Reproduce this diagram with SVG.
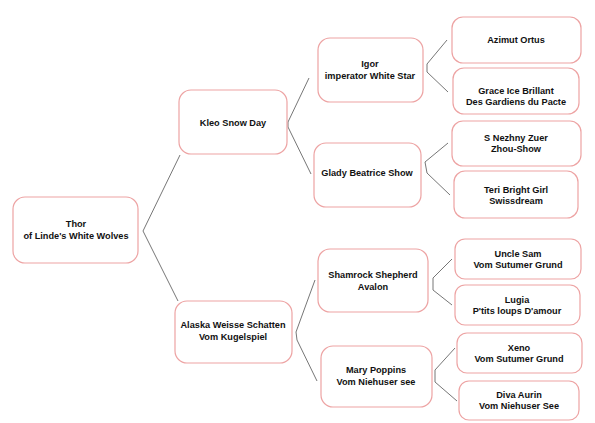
<svg xmlns="http://www.w3.org/2000/svg" width="595" height="423" viewBox="0 0 595 423">
<style>
.box{fill:#fff;stroke:#eda3a3;stroke-width:1.2}
.t{font-family:"Liberation Sans",Arial,sans-serif;font-weight:bold;font-size:9.2px;fill:#111;text-anchor:middle}
.c{fill:none;stroke:#666;stroke-width:0.9}
</style>
<rect width="595" height="423" fill="#fff"/>
<g id="connectors">
<polyline class="c" points="180,155 143,231 178,301"/>
<polyline class="c" points="309,78 288,122 288,127 311,174"/>
<polyline class="c" points="315,280 296,332 297,340 317,381"/>
<polyline class="c" points="447,40 427,64 427,72 448,92"/>
<polyline class="c" points="448,143 425,162 427,173 450,195"/>
<polyline class="c" points="452,259 433,278 433,290 452,305"/>
<polyline class="c" points="455,348 435,370 435,382 457,401"/>
</g>
<g id="thor"><rect class="box" x="13" y="197" width="125" height="66" rx="12"/><text class="t" x="76" y="227">Thor</text><text class="t" x="76" y="239">of Linde's White Wolves</text></g>
<g id="kleo"><rect class="box" x="179" y="90" width="108" height="64" rx="12"/><text class="t" x="233" y="126">Kleo Snow Day</text></g>
<g id="alaska"><rect class="box" x="175" y="301" width="117" height="62" rx="12"/><text class="t" x="233" y="328">Alaska Weisse Schatten</text><text class="t" x="233" y="340">Vom Kugelspiel</text></g>
<g id="igor"><rect class="box" x="318" y="38" width="105" height="64" rx="12"/><text class="t" x="370" y="67">Igor</text><text class="t" x="370" y="79">imperator White Star</text></g>
<g id="glady"><rect class="box" x="314" y="143" width="107" height="64" rx="12"/><text class="t" x="367" y="176">Glady Beatrice Show</text></g>
<g id="shamrock"><rect class="box" x="318" y="249" width="110" height="63" rx="12"/><text class="t" x="373" y="278">Shamrock Shepherd</text><text class="t" x="373" y="290">Avalon</text></g>
<g id="mary"><rect class="box" x="321" y="346" width="111" height="61" rx="12"/><text class="t" x="376" y="373">Mary Poppins</text><text class="t" x="376" y="385">Vom Niehuser see</text></g>
<g id="azimut"><rect class="box" x="452" y="17" width="129" height="46" rx="11"/><text class="t" x="516" y="43">Azimut Ortus</text></g>
<g id="grace"><rect class="box" x="453" y="68" width="126" height="46" rx="11"/><text class="t" x="516" y="94">Grace Ice Brillant</text><text class="t" x="516" y="105">Des Gardiens du Pacte</text></g>
<g id="nezhny"><rect class="box" x="452" y="121" width="129" height="45" rx="11"/><text class="t" x="516" y="141">S Nezhny Zuer</text><text class="t" x="516" y="152">Zhou-Show</text></g>
<g id="teri"><rect class="box" x="454" y="171" width="124" height="47" rx="11"/><text class="t" x="516" y="193">Teri Bright Girl</text><text class="t" x="516" y="204">Swissdream</text></g>
<g id="unclesam"><rect class="box" x="455" y="239" width="126" height="40" rx="10"/><text class="t" x="518" y="257">Uncle Sam</text><text class="t" x="518" y="268">Vom Sutumer Grund</text></g>
<g id="lugia"><rect class="box" x="455" y="285" width="125" height="40" rx="10"/><text class="t" x="517" y="303">Lugia</text><text class="t" x="517" y="314">P'tits loups D'amour</text></g>
<g id="xeno"><rect class="box" x="457" y="333" width="125" height="40" rx="10"/><text class="t" x="519" y="351">Xeno</text><text class="t" x="519" y="362">Vom Sutumer Grund</text></g>
<g id="diva"><rect class="box" x="459" y="381" width="120" height="39" rx="10"/><text class="t" x="519" y="398">Diva Aurin</text><text class="t" x="519" y="409">Vom Niehuser See</text></g>
</svg>
